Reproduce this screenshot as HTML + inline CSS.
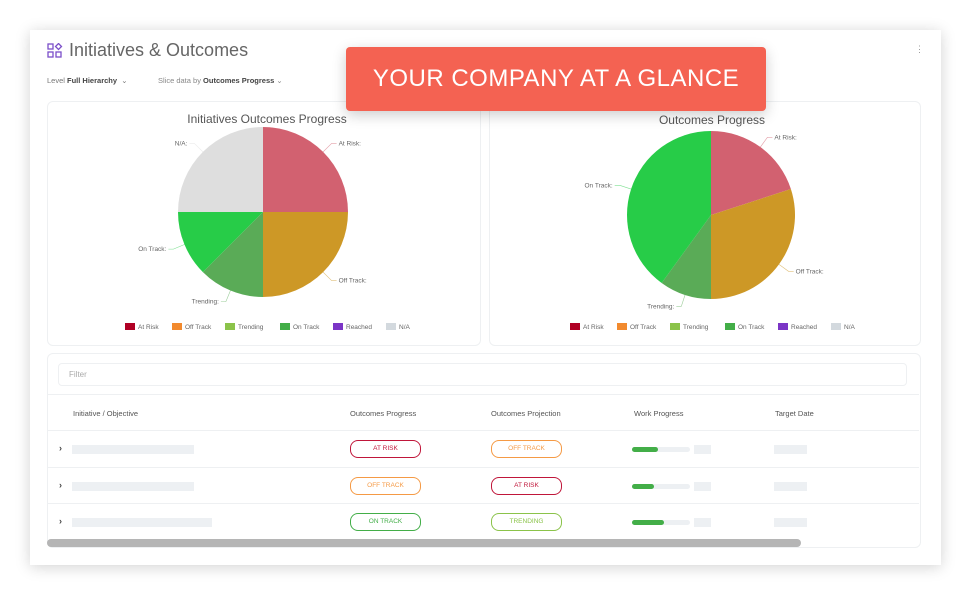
<!DOCTYPE html>
<html><head><meta charset="utf-8"><style>
body{margin:0;width:971px;height:596px;background:#fff;font-family:"Liberation Sans",sans-serif;position:relative;overflow:hidden}
.abs{position:absolute}
#card{left:30px;top:30px;width:911px;height:535px;background:#fff;box-shadow:0 2px 14px rgba(0,0,0,.18)}
.panel{border:1px solid #eef0f2;border-radius:6px;background:#fff}
.hdr{font-size:7.5px;color:#555;top:409px}
.pill{position:absolute;width:69px;height:16px;border:1.3px solid;border-radius:8px;font-size:6.5px;text-align:center;line-height:16px}
.bar{position:absolute;height:9px;background:#edf0f3}
</style></head><body>
<div id="card" class="abs"></div>
<svg class="abs" style="left:47px;top:43px" width="16" height="16"><g fill="none" stroke="#7b4fc9" stroke-width="1.3"><rect x="1" y="1" width="5" height="5"/><rect x="1" y="9" width="5" height="5"/><rect x="9" y="9" width="5" height="5"/><path d="M11.5 0.5l3 3-3 3-3-3z"/></g></svg>
<div class="abs" style="left:69px;top:40px;font-size:18px;color:#666">Initiatives &amp; Outcomes</div>
<div class="abs" style="left:915px;top:44px;font-size:9px;color:#999">⋮</div>
<div class="abs" style="left:47px;top:76px;font-size:7.5px;color:#777">Level <b style="color:#444">Full Hierarchy</b> &nbsp;⌄</div>
<div class="abs" style="left:158px;top:76px;font-size:7.5px;color:#888">Slice data by <b style="color:#444">Outcomes Progress</b> ⌄</div>
<div class="abs panel" style="left:47px;top:101px;width:432px;height:243px"></div>
<div class="abs panel" style="left:489px;top:101px;width:430px;height:243px"></div>
<svg id="pies" class="abs" style="left:0;top:0" width="971" height="596"></svg>
<div class="abs" style="left:346px;top:47px;width:420px;height:64px;background:#f46252;border-radius:4px;box-shadow:0 4px 14px rgba(0,0,0,.2);color:#fff;font-size:24px;text-align:center;line-height:64px;letter-spacing:.5px">YOUR COMPANY AT A GLANCE</div>
<div class="abs panel" style="left:47px;top:353px;width:872px;height:193px"></div>
<div class="abs" style="left:58px;top:363px;width:847px;height:21px;border:1px solid #eef0f2;border-radius:4px;font-size:8px;color:#aaa;line-height:21px;text-indent:10px">Filter</div>
<div class="abs" style="left:47px;top:394px;width:872px;border-top:1px solid #eef0f2"></div>
<div class="abs hdr" style="left:73px">Initiative / Objective</div>
<div class="abs hdr" style="left:350px">Outcomes Progress</div>
<div class="abs hdr" style="left:491px">Outcomes Projection</div>
<div class="abs hdr" style="left:634px">Work Progress</div>
<div class="abs hdr" style="left:775px">Target Date</div>
<div class="abs" style="left:47px;top:430px;width:872px;border-top:1px solid #eef0f2"></div>
<div class="abs" style="left:47px;top:467px;width:872px;border-top:1px solid #eef0f2"></div>
<div class="abs" style="left:47px;top:503px;width:872px;border-top:1px solid #eef0f2"></div>
<div id="rows"></div>
<div class="abs" style="left:47px;top:539px;width:754px;height:8px;border-radius:4px;background:#b5b5b5"></div>
<script>
const labels=["At Risk","Off Track","Trending","On Track","Reached","N/A"];
const sliceColors=["#d26170","#cd9826","#5aab57","#27cc48","#7a35c2","#dedede"];
const legendColors=["#b00024","#f28a2e","#8bc34a","#43ae48","#7b35c6","#d3d9de"];
const initiativesValues=[2,2,1,1,0,2];
const outcomesValues=[2,3,1,4,0,0];
const NS="http://www.w3.org/2000/svg";
const svg=document.getElementById('pies');
function mk(t,a){const e=document.createElementNS(NS,t);for(const k in a)e.setAttribute(k,a[k]);svg.appendChild(e);return e;}
function pie(vals,cx,cy,r,title,tx,ty,legY,key){
  const t=mk('text',{x:tx,y:ty,'font-size':12,fill:'#555','text-anchor':'middle','font-family':'Liberation Sans, sans-serif'});
  t.textContent=title;
  
  
  const tot=vals.reduce((a,b)=>a+b,0);let a0=0;
  vals.forEach((v,i)=>{if(!v)return;const a1=a0+v/tot*2*Math.PI;
    const p=(a)=>[cx+r*Math.sin(a),cy-r*Math.cos(a)];const [x0,y0]=p(a0),[x1,y1]=p(a1);
    const s=mk('path',{d:`M${cx},${cy}L${x0},${y0}A${r},${r} 0 ${a1-a0>Math.PI?1:0} 1 ${x1},${y1}Z`,fill:sliceColors[i]});
    
    
    const m=(a0+a1)/2,sx=Math.sin(m),sy=-Math.cos(m);
    const ex=cx+(r+12)*sx,ey=cy+(r+12)*sy;
    mk('path',{d:`M${cx+r*sx},${cy+r*sy}L${ex},${ey}l${sx>0?5:-5},0`,stroke:sliceColors[i],fill:'none','stroke-width':.6,opacity:.6});
    const l=mk('text',{x:ex+(sx>0?7:-7),y:ey+2,'font-size':6.5,fill:'#666','text-anchor':sx>0?'start':'end','font-family':'Liberation Sans, sans-serif'});
    l.textContent=labels[i]+':';
    
    
    a0=a1;});
  const xs=[121,168,221,276,329,382];
  labels.forEach((n,i)=>{const ox=tx-263;
    const r2=mk('rect',{x:xs[i]+ox,y:legY-6,width:10,height:7,fill:legendColors[i]});
    
    
    const lt=mk('text',{x:xs[i]+ox+13,y:legY,'font-size':6.5,fill:'#666','font-family':'Liberation Sans, sans-serif'});
    lt.textContent=n;
    
    });
}
pie(initiativesValues,263,212,85,'Initiatives Outcomes Progress',267,123,329,'initiatives');
pie(outcomesValues,711,215,84,'Outcomes Progress',712,124,329,'outcomes');
const pillColors={"AT RISK":"#c0163a","OFF TRACK":"#f59a45","ON TRACK":"#43ae48","TRENDING":"#8bc34a"};
const rowsData=[["AT RISK","OFF TRACK",122,26],["OFF TRACK","AT RISK",122,22],["ON TRACK","TRENDING",140,32]];
const rows=document.getElementById('rows');
rowsData.forEach((r,i)=>{const y=449+i*36.5;
  const h=`<div class="abs" style="left:59px;top:${y-6}px;font-size:9px;font-weight:bold;color:#444">›</div>
  <div class="bar" style="left:72px;top:${y-4}px;width:${r[2]}px"></div>
  <div class="pill" style="left:350px;top:${y-9}px;color:${pillColors[r[0]]};border-color:${pillColors[r[0]]}">${r[0]}</div>
  <div class="pill" style="left:491px;top:${y-9}px;color:${pillColors[r[1]]};border-color:${pillColors[r[1]]}">${r[1]}</div>
  <div class="abs" style="left:632px;top:${y-2}px;width:58px;height:5px;border-radius:3px;background:#edf0f3"><div style="width:${r[3]}px;height:5px;border-radius:3px;background:#43ae48"></div></div>
  <div class="bar" style="left:694px;top:${y-4}px;width:17px"></div>
  <div class="bar" style="left:774px;top:${y-4}px;width:33px"></div>`;
  const d=document.createElement('div');d.innerHTML=h;
  
  
  rows.appendChild(d);});
</script>
</body></html>
